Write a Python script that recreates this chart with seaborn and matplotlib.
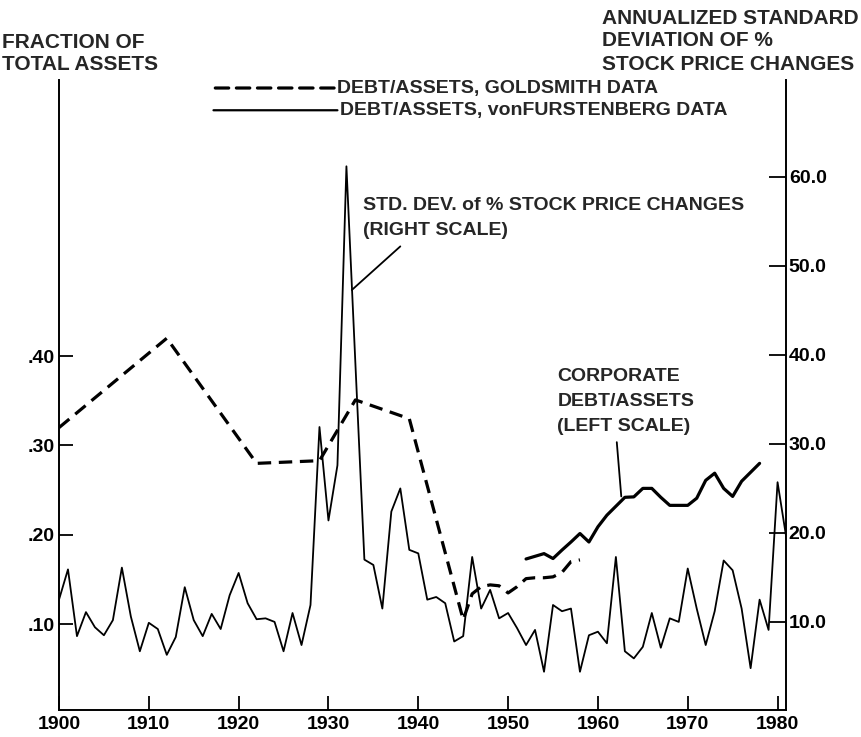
import matplotlib
matplotlib.use("Agg")
import matplotlib.pyplot as plt
import seaborn as sns
import pandas as pd

# ---------------- data ----------------
sd_years = list(range(1900, 1982))
std_dev = [12.5, 15.9, 8.4, 11.1, 9.4, 8.5, 10.2, 16.1, 10.6, 6.7,
           9.9, 9.2, 6.3, 8.3, 13.9, 10.2, 8.4, 10.9, 9.2, 13.0,
           15.5, 12.1, 10.3, 10.4, 10.0, 6.7, 11.0, 7.4, 11.9, 31.9,
           21.4, 27.6, 61.2, 39.0, 17.0, 16.4, 11.5, 22.4, 25.0, 18.1,
           17.7, 12.5, 12.8, 12.1, 7.8, 8.4, 17.3, 11.5, 13.6, 10.4,
           11.0, 9.3, 7.4, 9.1, 4.4, 11.9, 11.2, 11.5, 4.4, 8.5,
           8.9, 7.6, 17.3, 6.7, 5.9, 7.2, 11.0, 7.1, 10.4, 10.0,
           16.0, 11.5, 7.4, 11.2, 16.9, 15.8, 11.5, 4.8, 12.5, 9.1,
           25.7, 19.3]

gold_years = [1900, 1912, 1922, 1929, 1933, 1939, 1945, 1946, 1947, 1948,
              1949, 1950, 1951, 1952, 1953, 1954, 1955, 1956, 1957, 1958]
gold_ratio = [0.320, 0.420, 0.280, 0.283, 0.351, 0.330, 0.105, 0.134, 0.142, 0.144,
              0.143, 0.135, 0.142, 0.151, 0.152, 0.152, 0.153, 0.158, 0.170, 0.172]

vf_years = list(range(1952, 1979))
vf_ratio = [0.173, 0.176, 0.179, 0.1735, 0.183, 0.192, 0.2015, 0.192, 0.209, 0.222,
            0.232, 0.242, 0.2425, 0.252, 0.252, 0.242, 0.233, 0.233, 0.233, 0.241,
            0.261, 0.269, 0.252, 0.243, 0.260, 0.270, 0.280]

x_ticks = [1900, 1910, 1920, 1930, 1940, 1950, 1960, 1970, 1980]
left_ticks = [0.10, 0.20, 0.30, 0.40]
left_labels = [".10", ".20", ".30", ".40"]
right_ticks = [10, 20, 30, 40, 50, 60]
right_labels = ["10.0", "20.0", "30.0", "40.0", "50.0", "60.0"]

# ---------------- style ----------------
sns.set_theme(style="ticks")
plt.rcParams["font.family"] = ["Liberation Sans", "DejaVu Sans"]
plt.rcParams["font.weight"] = "bold"
FS = 14
FT = 15

W, H = 861, 737
fig = plt.figure(figsize=(W / 100, H / 100), dpi=100)
L, R, T, B = 59, 786, 80, 710
ax = fig.add_axes([L / W, 1 - B / H, (R - L) / W, (B - T) / H])
ax2 = ax.twinx()

sd_df = pd.DataFrame({"year": sd_years, "sd": std_dev})
gold_df = pd.DataFrame({"year": gold_years, "ratio": gold_ratio})
vf_df = pd.DataFrame({"year": vf_years, "ratio": vf_ratio})

sns.lineplot(data=gold_df, x="year", y="ratio", ax=ax, color="black",
             linewidth=2.3, estimator=None)
ax.lines[-1].set_linestyle((0, (4.2, 2.4)))
sns.lineplot(data=vf_df, x="year", y="ratio", ax=ax, color="black",
             linewidth=2.3, estimator=None)
sns.lineplot(data=sd_df, x="year", y="sd", ax=ax2, color="black",
             linewidth=1.3, estimator=None)

ax.set_xlim(1900, 1980.94)
ax.set_ylim(0.004, 0.709)
ax2.set_ylim(0.1, 70.9)

for a in (ax, ax2):
    a.set_xlabel("")
    a.set_ylabel("")
    a.spines["top"].set_visible(False)
    for s in a.spines.values():
        s.set_linewidth(1.4)
        s.set_color("black")
ax.spines["right"].set_visible(False)
ax2.spines["left"].set_visible(False)
ax2.spines["bottom"].set_visible(False)

ax.set_xticks(x_ticks)
ax.set_xticklabels([str(v) for v in x_ticks])
ax.set_yticks(left_ticks)
ax.set_yticklabels(left_labels)
ax2.set_yticks(right_ticks)
ax2.set_yticklabels(right_labels)

ax.tick_params(axis="x", direction="in", length=10, width=1.3, pad=4,
               labelsize=FS, colors="black")
ax.tick_params(axis="y", direction="in", length=10, width=1.3, pad=3,
               labelsize=FS, colors="black")
ax2.tick_params(axis="y", direction="in", length=12, width=1.3, pad=2,
                labelsize=FS, colors="black")
for lbl in ax.get_xticklabels() + ax.get_yticklabels() + ax2.get_yticklabels():
    lbl.set_fontweight("bold")

# ---------------- titles ----------------
def fx(px):
    return px / W

def fy(py):
    return 1 - py / H

fig.text(fx(2), fy(42), "FRACTION OF", fontsize=FT, fontweight="bold", va="center", ha="left")
fig.text(fx(2), fy(64), "TOTAL ASSETS", fontsize=FT, fontweight="bold", va="center", ha="left")
fig.text(fx(602), fy(18), "ANNUALIZED STANDARD", fontsize=FT, fontweight="bold", va="center", ha="left")
fig.text(fx(602), fy(41), "DEVIATION OF %", fontsize=FT, fontweight="bold", va="center", ha="left")
fig.text(fx(602), fy(64), "STOCK PRICE CHANGES", fontsize=FT, fontweight="bold", va="center", ha="left")

# ---------------- legend (drawn like the original) ----------------
line_kw = dict(arrowstyle="-", color="black", shrinkA=0, shrinkB=0)
y1, y2 = 70.0, 67.5
ax2.annotate("", xy=(1930.7, y1), xytext=(1917.4, y1),
             arrowprops=dict(**line_kw, lw=2.3, linestyle=(0, (4.2, 2.4))),
             annotation_clip=False)
ax2.text(1931.0, y1, "DEBT/ASSETS, GOLDSMITH DATA", fontsize=FS, fontweight="bold",
         va="center", ha="left", clip_on=False)
ax2.annotate("", xy=(1931.0, y2), xytext=(1917.2, y2),
             arrowprops=dict(**line_kw, lw=1.6), annotation_clip=False)
ax2.text(1931.3, y2, "DEBT/ASSETS, vonFURSTENBERG DATA", fontsize=FS, fontweight="bold",
         va="center", ha="left", clip_on=False)

# ---------------- annotations ----------------
ax2.text(1933.9, 56.8, "STD. DEV. of % STOCK PRICE CHANGES", fontsize=FS,
         fontweight="bold", va="center", ha="left")
ax2.text(1933.9, 54.0, "(RIGHT SCALE)", fontsize=FS, fontweight="bold",
         va="center", ha="left")
ax2.annotate("", xy=(1932.6, 47.3), xytext=(1938.0, 52.2),
             arrowprops=dict(**line_kw, lw=1.3))

ax2.text(1955.5, 37.6, "CORPORATE", fontsize=FS, fontweight="bold", va="center", ha="left")
ax2.text(1955.5, 34.8, "DEBT/ASSETS", fontsize=FS, fontweight="bold", va="center", ha="left")
ax2.text(1955.5, 32.0, "(LEFT SCALE)", fontsize=FS, fontweight="bold", va="center", ha="left")
ax2.annotate("", xy=(1962.6, 24.1), xytext=(1962.1, 30.2),
             arrowprops=dict(**line_kw, lw=1.3))

fig.savefig("out.png", dpi=100, facecolor="white")
